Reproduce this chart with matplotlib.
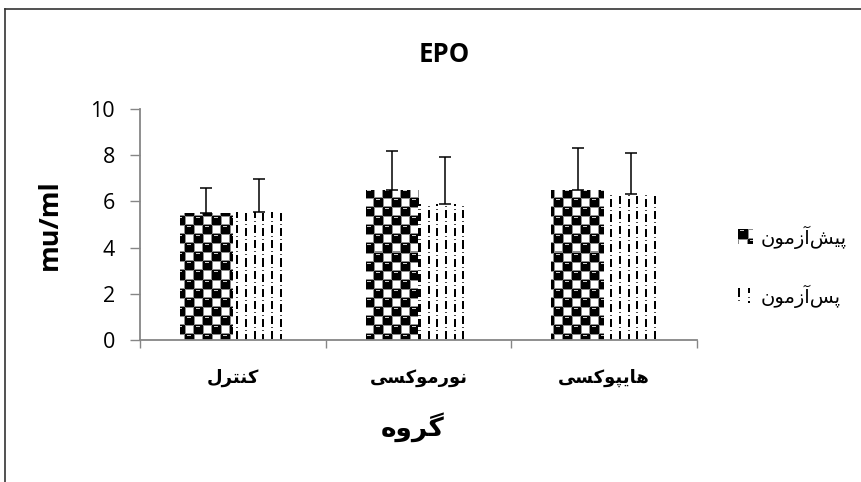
import numpy as np
import matplotlib
matplotlib.use("Agg")
import matplotlib.pyplot as plt
from matplotlib.patches import Patch
from matplotlib.lines import Line2D
from matplotlib.legend_handler import HandlerBase
from matplotlib.image import BboxImage
from matplotlib.transforms import Bbox, TransformedBbox
from matplotlib.colors import Normalize

# ---- data ----
# Persian text written in Arabic presentation forms (visual order) so it renders joined
categories = ["\uFEDD\uFEAE\uFE98\uFEE8\uFB90",                       # کنترل
              "\uFBFD\uFEB4\uFB90\uFEEE\uFEE3\uFEAD\uFEEE\uFEE7",     # نورموکسی
              "\uFBFD\uFEB4\uFB90\uFEEE\uFB59\uFBFE\uFE8E\uFEEB"]     # هایپوکسی
series_names = ["\uFEE5\uFEEE\uFEE3\uFEAF\uFE81\uFEB6\uFBFF\uFB58",   # پیش‌آزمون
                "\uFEE5\uFEEE\uFEE3\uFEAF\uFE81\uFEB2\uFB58"]         # پس‌آزمون
pre_values = [5.5, 6.5, 6.5]
post_values = [5.55, 5.9, 6.3]
pre_err = [1.1, 1.7, 1.8]
post_err = [1.4, 2.0, 1.8]
title = "EPO"
ylabel = "mu/ml"
xlabel = "\uFEE9\uFEED\uFEAE\uFB94"                                    # گروه
yticks = [0, 2, 4, 6, 8, 10]

LAT = ["Open Sans", "DejaVu Sans"]
AR = ["DejaVu Sans"]

fig = plt.figure(figsize=(8.61, 4.82), dpi=100)
ax = fig.add_axes([0.1626, 0.2946, 0.8095 - 0.1626, 0.7739 - 0.2946])

x = np.arange(len(categories))
w = 0.285
bars_pre = ax.bar(x - w / 2, pre_values, w, facecolor="none", edgecolor="none")
bars_post = ax.bar(x + w / 2, post_values, w, facecolor="none", edgecolor="none")
ax.errorbar(x - w / 2, pre_values, yerr=[np.zeros(3), pre_err], fmt="none",
            ecolor="black", elinewidth=1.1, capsize=4.5, capthick=1.1, zorder=3)
ax.errorbar(x + w / 2, post_values, yerr=[np.zeros(3), post_err], fmt="none",
            ecolor="black", elinewidth=1.1, capsize=4.5, capthick=1.1, zorder=3)

# ---- fill textures (pixel patterns clipped to the bars) ----
W, H = 557, 231
yy, xx = np.mgrid[0:H, 0:W]
c = 9
cx = (xx // c) * c + c / 2
cy = (yy // c) * c + c / 2
black_cell = ((xx // c + yy // c) % 2) == 0
px = xx + 0.5
py = yy + 0.5
pre_img = np.ones((H, W))
edge = (~black_cell) & ((xx % c == 0) | (yy % c == 0) | (xx % c == c - 1) | (yy % c == c - 1))
pre_img[edge] = 0.55
ball = black_cell & (np.hypot(px - cx, py - cy) < 6.3)
pre_img[ball] = 0.0
hl = black_cell & (((px - (cx - 0.5)) / 1.8) ** 2 + ((py - (cy - 2.8)) / 0.8) ** 2 < 1)
pre_img[hl] = 0.8

sp = 8.7
col = np.floor(xx / sp).astype(int)
inx = (xx - col * sp) < 2
phase = (yy + (col % 2) * 3) % 15
post_img = np.ones((H, W))
post_img[inx & (phase < 8)] = 0.0
post_img[inx & (phase == 11)] = 0.3

ext = (-0.5, 2.5, 0, 10)
for bar in bars_pre:
    im = ax.imshow(pre_img, cmap="gray", vmin=0, vmax=1, extent=ext, aspect="auto",
                   interpolation="nearest", zorder=1)
    im.set_clip_path(bar)
for bar in bars_post:
    im = ax.imshow(post_img, cmap="gray", vmin=0, vmax=1, extent=ext, aspect="auto",
                   interpolation="nearest", zorder=1)
    im.set_clip_path(bar)
ax.set_xlim(-0.5, 2.5)
ax.set_ylim(0, 10)

# ---- axes styling ----
axis_col = "#868686"
for s in ["top", "right"]:
    ax.spines[s].set_visible(False)
for s in ["left", "bottom"]:
    ax.spines[s].set_color(axis_col)
    ax.spines[s].set_linewidth(1.3)
ax.set_yticks(yticks)
ax.set_yticklabels([str(v) for v in yticks], fontsize=15.5, family=LAT)
ax.tick_params(axis="y", direction="out", length=7, color=axis_col, width=1, pad=11)
ax.set_xticks(x)
ax.set_xticklabels(categories, fontsize=13, family=AR, fontweight="bold")
ax.set_xticks([-0.5, 0.5, 1.5, 2.5], minor=True)
ax.tick_params(axis="x", which="major", length=0, pad=21)
ax.tick_params(axis="x", which="minor", direction="out", length=6, color=axis_col, width=1)

fig.text(0.5165, 0.886, title, ha="center", va="center", fontsize=18.5,
         fontweight="bold", family=LAT)
fig.text(0.058, 0.535, ylabel, ha="center", va="center", rotation=90, fontsize=19.5,
         fontweight="bold", family=LAT)
fig.text(0.479, 0.113, xlabel, ha="center", va="center", fontsize=19,
         fontweight="bold", family=AR)


# ---- legend with texture swatches ----
class ImgHandler(HandlerBase):
    def __init__(self, img):
        super().__init__()
        self.img = img

    def create_artists(self, legend, orig_handle, xdescent, ydescent, width, height,
                       fontsize, trans):
        bb = TransformedBbox(Bbox.from_bounds(-xdescent, -ydescent, width, height), trans)
        im = BboxImage(bb, cmap="gray", norm=Normalize(0, 1), interpolation="nearest")
        im.set_data(self.img)
        return [im]


h_pre = Patch(facecolor="black")
h_post = Patch(facecolor="white")
leg = fig.legend([h_pre, h_post], series_names, loc="center",
                 bbox_to_anchor=(0.92, 0.447), frameon=False, markerfirst=True,
                 handlelength=0.75, handleheight=0.75, handletextpad=0.4,
                 labelspacing=1.85, prop={"family": AR, "size": 14},
                 handler_map={h_pre: ImgHandler(pre_img[0:14, 0:14]),
                              h_post: ImgHandler(post_img[0:14, 0:14])})

# chart area border (left and top)
fig.add_artist(Line2D([0.006, 0.006], [0.0, 0.981], transform=fig.transFigure,
                      color="#333333", lw=1.2))
fig.add_artist(Line2D([0.006, 1.0], [0.981, 0.981], transform=fig.transFigure,
                      color="#333333", lw=1.2))

fig.savefig("out.png", dpi=100)
